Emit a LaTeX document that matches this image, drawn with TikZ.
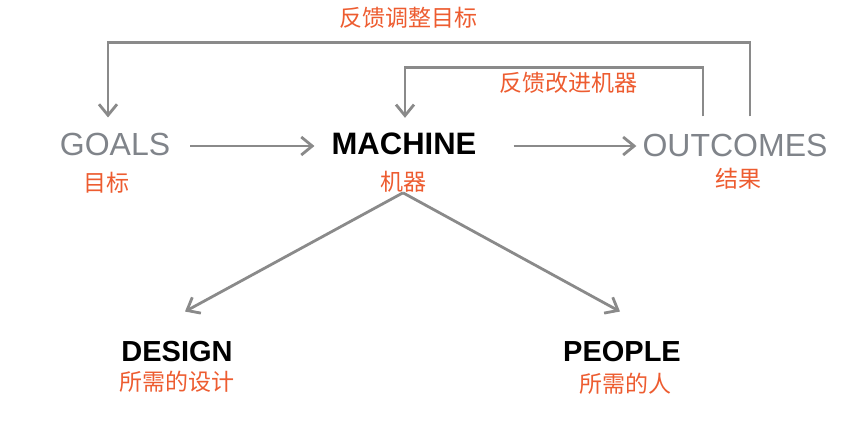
\documentclass[tikz,border=0pt]{standalone}
\usepackage{fontspec}
\setmainfont{Liberation Sans}
\newfontfamily\cjk{Noto Sans CJK SC}
\usetikzlibrary{arrows.meta,calc}

\definecolor{linkgray}{RGB}{138,138,138}
\definecolor{wordgray}{RGB}{128,132,138}
\definecolor{cnorange}{RGB}{237,92,48}

\begin{document}
\begin{tikzpicture}[x=1pt,y=-1pt,
    word/.style={inner sep=0pt,text=wordgray,font=\fontsize{32}{32}\selectfont},
    key/.style={inner sep=0pt,text=black,font=\fontsize{31}{31}\selectfont\bfseries},
    cn/.style={inner sep=0pt,text=cnorange,font=\cjk\fontsize{23}{23}\selectfont},
    link/.style={draw=linkgray,line width=2.8pt,-{Straight Barb[length=11pt,width=18pt,line width=2.8pt]}}]
                      \useasboundingbox (0,0) rectangle (865,439);
                      % main row
                      \node (goals) at (115,144) [word] {GOALS};
                      \node (machine) at (404,144) [key] {MACHINE};
                      \node (outcomes) at (735,145) [word] {OUTCOMES};
                      \node (goalscn) at (106,183) [cn] {目标};
                      \node (machinecn) at (403,182) [cn] {机器};
                      \node (outcomescn) at (738,179) [cn] {结果};
                      % bottom row
                      \node (design) at (177,352) [key,font=\fontsize{29}{29}\selectfont\bfseries] {DESIGN};
                      \node (people) at (622,352) [key,font=\fontsize{29}{29}\selectfont\bfseries] {PEOPLE};
                      \node (designcn) at (177,382) [cn] {所需的设计};
                      \node (peoplecn) at (625,384) [cn] {所需的人};
                      % feedback labels
                      \node (fbgoals) at (408,18) [cn] {反馈调整目标};
                      \node (fbmachine) at (568,83) [cn] {反馈改进机器};
                      % connectors
                      \draw[link] ($(goals.east)+(20,2)$) -- ($(machine.west)+(-17,2)$);
                      \draw[link] ($(machine.east)+(37,2)$) -- ($(outcomes.west)+(-6,1)$);
                      \draw[link] ($(outcomes.north)+(15,-17)$) -- ++(0,-74) -| ($(goals.north)+(-7,-15)$);
                      \draw[link] ($(outcomes.north)+(-32,-17)$) -- ++(0,-49) -| ($(machine.north)+(1,-15)$);
                      \draw[link] (machinecn.south) -- ($(design.north)+(8,-30)$);
                      \draw[link] (machinecn.south) -- ($(people.north)+(-2,-30)$);
                \end{tikzpicture}
\end{document}
